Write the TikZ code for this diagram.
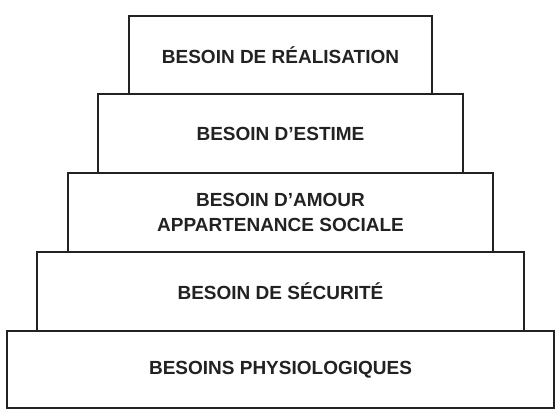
\documentclass[tikz,border=0pt]{standalone}
\usepackage{fontspec}
\setmainfont{Liberation Sans}
\usepackage{xcolor}
\usetikzlibrary{positioning}

\definecolor{trait}{HTML}{222222}
\tikzset{
  niveau/.style={draw=trait, line width=2pt, fill=white, minimum height=79pt,
    align=center, text=trait, font=\fontsize{19}{25}\selectfont\bfseries, inner sep=0pt}
}

\begin{document}
\begin{tikzpicture}[x=1pt,y=-1pt]
\useasboundingbox[fill=white] (0,0) rectangle (557,414);
\node[niveau, minimum width=547pt, minimum height=77pt] (physio) at (280.5,369.5) {BESOINS PHYSIOLOGIQUES};
\node[niveau, minimum width=487pt] (securite) at (280.5,291.5) {BESOIN DE SÉCURITÉ};
\node[niveau, minimum width=425pt] (amour) at (280.5,212.5) {BESOIN D’AMOUR\\APPARTENANCE SOCIALE};
\node[niveau, minimum width=365pt] (estime) at (280.5,133.5) {BESOIN D’ESTIME};
\node[niveau, minimum width=303pt, minimum height=78pt] (realisation) at (280.5,55) {BESOIN DE RÉALISATION};
\end{tikzpicture}
\end{document}
